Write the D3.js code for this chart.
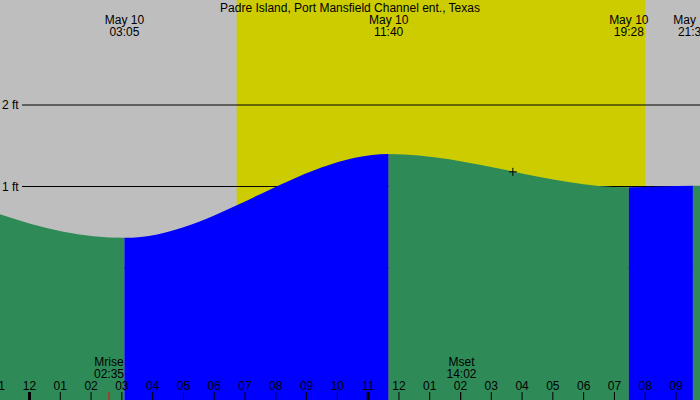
<!DOCTYPE html>
<html>
<head>
<meta charset="utf-8">
<script src="https://cdn.jsdelivr.net/npm/d3@7"></script>
<style>
  body { margin: 0; }
  text { font-family: 'Liberation Sans', sans-serif; font-size: 12px; fill: #000; }
</style>
</head>
<body>
<div id="chart"></div>
<script>
const width = 700
const height = 400

// tide extremes, hours since midnight May 10, feet
const tideHours = [-5, 3.083, 11.667, 19.467, 21.55, 27]
const tideFeet = [1.3, 0.37, 1.4, 0.99, 1.01, 0.5]
const extremeLabels = [null, '03:05', '11:40', '19:28', '21:33', null]

const sunrise = 6.73
const sunset = 20.0
const moonrise = 2.583
const moonset = 14.033
const nowHour = 15.7
const nowFeet = 1.18

const hourTicks = d3.range(-1, 23)
const boldTicks = [0, 11]
const feetTicks = [0, 1, 2]

const x = d3.scaleLinear().domain([0, 21]).range([29.5, 676])
const y = d3.scaleLinear().domain([0, 2]).range([268, 105])

const svg = d3
  .select('#chart')
  .append('svg')
  .attr('width', width)
  .attr('height', height)

// night / day background
svg.append('rect').attr('width', width).attr('height', height).attr('fill', '#bebebe')
svg
  .append('rect')
  .attr('x', x(sunrise))
  .attr('width', x(sunset) - x(sunrise))
  .attr('height', height)
  .attr('fill', '#cccc00')

// reference lines
svg
  .selectAll('.gridline')
  .data(feetTicks)
  .enter()
  .append('line')
  .attr('x1', 22)
  .attr('x2', width)
  .attr('y1', d => y(d))
  .attr('y2', d => y(d))
  .attr('stroke', '#000')

svg
  .selectAll('.ftlabel')
  .data(feetTicks)
  .enter()
  .append('text')
  .attr('x', 2)
  .attr('y', d => y(d) + 4)
  .text(d => d + ' ft')

const tide = tideHours.map((h, i) => ({ h, ft: tideFeet[i] }))

const area = d3
  .area()
  .curve(d3.curveMonotoneX)
  .x(d => x(d.h))
  .y0(height)
  .y1(d => y(d.ft))

const defs = svg.append('defs')
tide.slice(0, -1).forEach((d, i) => {
  const next = tide[i + 1]
  const id = 'seg' + i
  defs
    .append('clipPath')
    .attr('id', id)
    .append('rect')
    .attr('x', x(d.h))
    .attr('width', x(next.h) - x(d.h))
    .attr('y', 0)
    .attr('height', height)
  svg
    .append('path')
    .datum(tide)
    .attr('clip-path', `url(#${id})`)
    .attr('d', area)
    .attr('fill', next.ft > d.ft ? '#0000ff' : '#2e8b57')
})

// current time marker
svg
  .append('path')
  .attr('d', `M${x(nowHour) - 4},${y(nowFeet)}h8M${x(nowHour)},${y(nowFeet) - 4}v8`)
  .attr('stroke', '#000')

// title and extreme labels
svg
  .append('text')
  .attr('x', 350)
  .attr('y', 12)
  .attr('text-anchor', 'middle')
  .text('Padre Island, Port Mansfield Channel ent., Texas')

const ext = tide.filter((d, i) => extremeLabels[i] && x(d.h) > 0 && x(d.h) < width + 30)
ext.forEach(d => {
  const lab = extremeLabels[tideHours.indexOf(d.h)]
  svg.append('text').attr('x', x(d.h)).attr('y', 24).attr('text-anchor', 'middle').text('May 10')
  svg.append('text').attr('x', x(d.h)).attr('y', 36).attr('text-anchor', 'middle').text(lab)
})

// moon labels
const moon = [
  { h: moonrise, name: 'Mrise', t: '02:35' },
  { h: moonset, name: 'Mset', t: '14:02' }
]
moon.forEach(m => {
  svg.append('text').attr('x', x(m.h)).attr('y', 366).attr('text-anchor', 'middle').text(m.name)
  svg.append('text').attr('x', x(m.h)).attr('y', 378).attr('text-anchor', 'middle').text(m.t)
  svg
    .append('line')
    .attr('x1', x(m.h))
    .attr('x2', x(m.h))
    .attr('y1', 392)
    .attr('y2', 400)
    .attr('stroke', 'red')
})

// hour axis
svg
  .selectAll('.hlabel')
  .data(hourTicks)
  .enter()
  .append('text')
  .attr('x', d => x(d))
  .attr('y', 390)
  .attr('text-anchor', 'middle')
  .text(d => {
    const hr = ((d % 12) + 12) % 12
    return d === -1 ? '11' : d3.format('02')(hr === 0 ? 12 : hr)
  })

svg
  .selectAll('.htick')
  .data(hourTicks)
  .enter()
  .append('line')
  .attr('x1', d => x(d))
  .attr('x2', d => x(d))
  .attr('y1', 392)
  .attr('y2', 400)
  .attr('stroke', '#000')
  .attr('stroke-width', d => (boldTicks.includes(d) ? 3 : 1))
</script>
</body>
</html>
